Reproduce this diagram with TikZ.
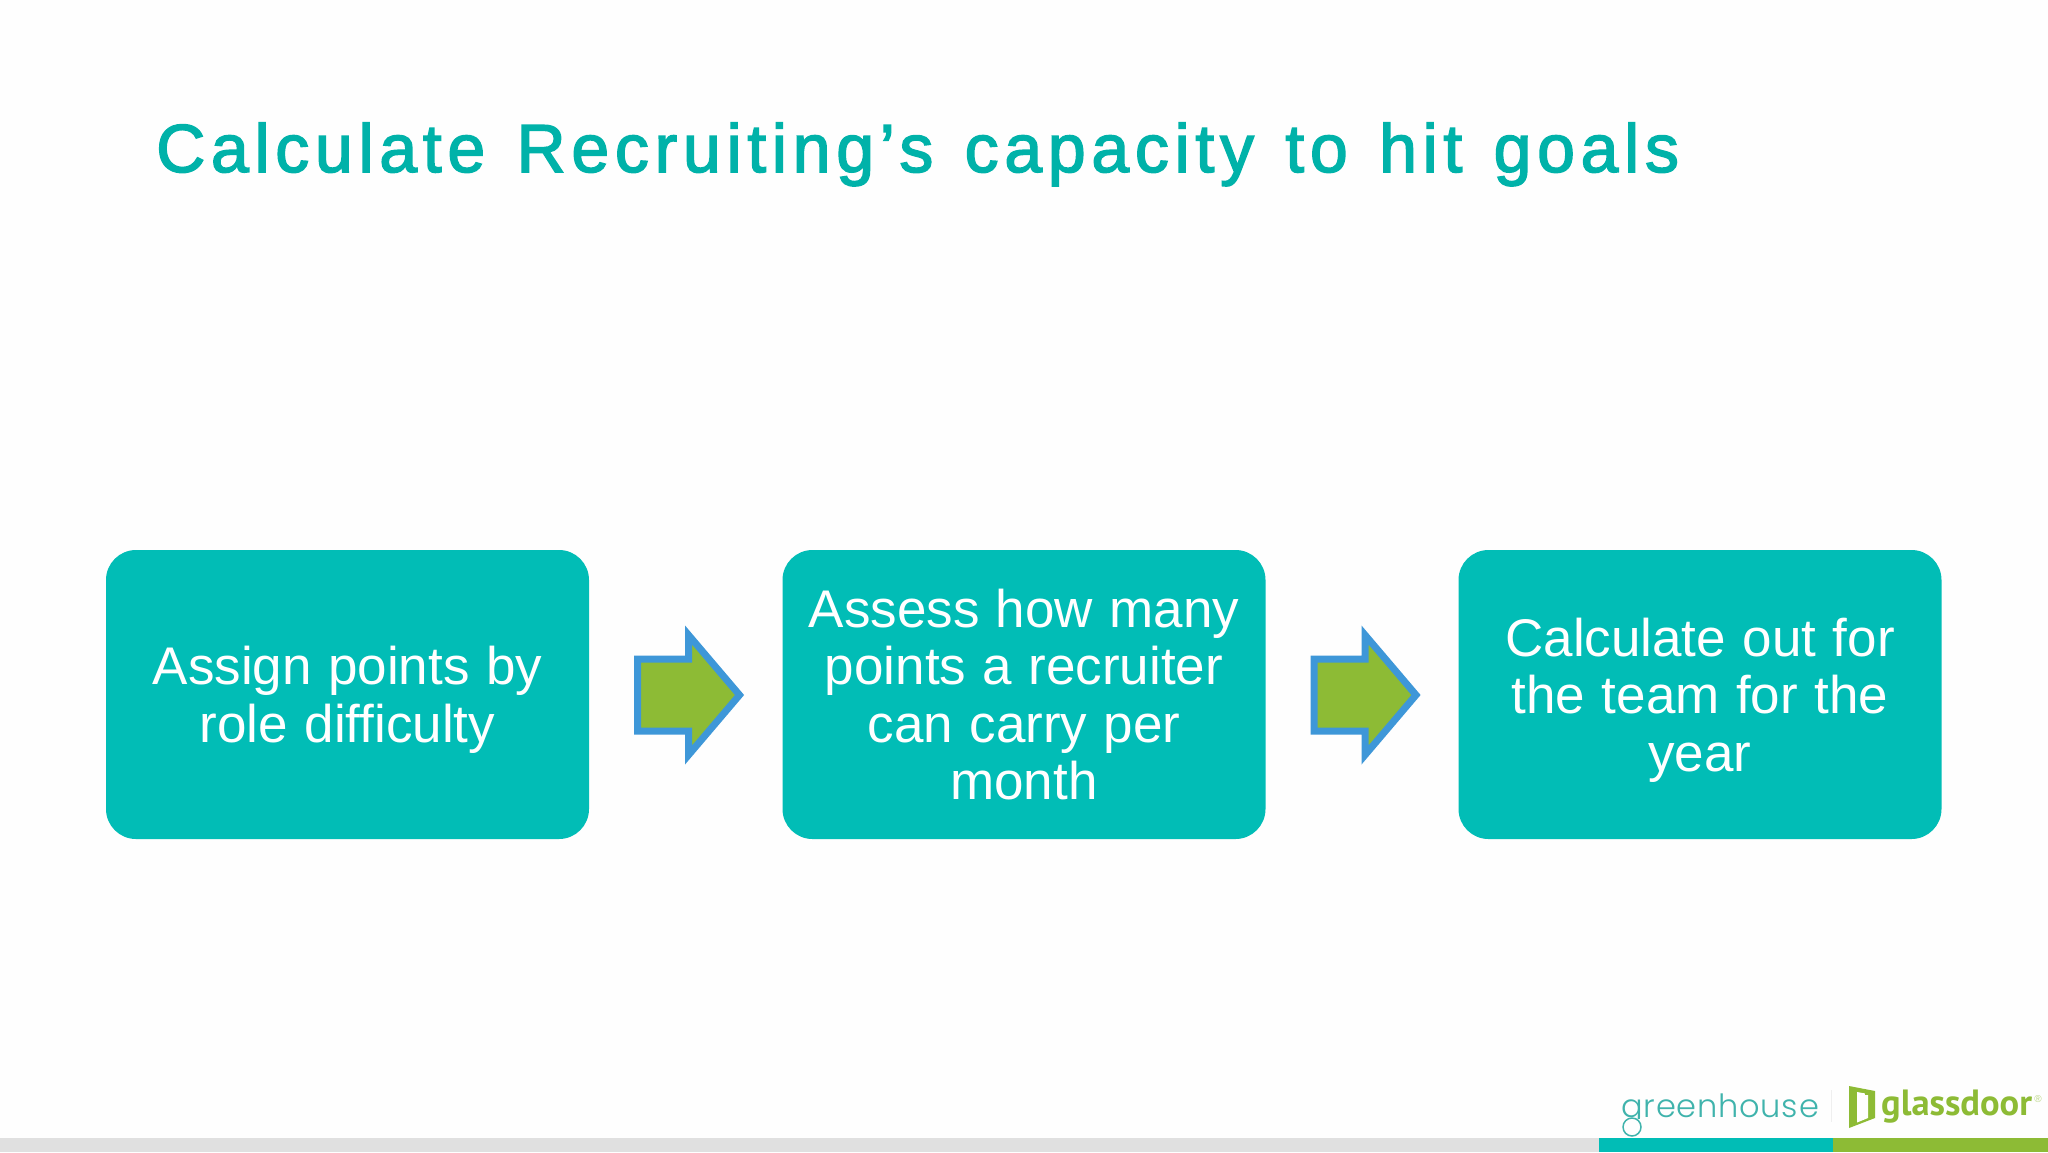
\documentclass[tikz,border=0pt]{standalone}
\usepackage{fontspec}
\setmainfont{Liberation Sans}
\newfontfamily\titlefont[LetterSpace=8.4,FakeBold=2.2]{Liberation Sans}
\newfontfamily\ghfont[LetterSpace=2.5]{Poppins Light}
\newfontfamily\gdfont{PT Sans Bold}
\newcommand\titlegap{\spaceskip=31.3pt\relax}
\newcommand\bodygap{\spaceskip=16.5pt\relax}
\definecolor{teal1}{HTML}{01BDB6}
\definecolor{titleteal}{HTML}{00B2A9}
\definecolor{leaf}{HTML}{8DBB35}
\definecolor{edgeblue}{HTML}{3E97D8}
\definecolor{barg}{HTML}{E0E0E0}
\definecolor{ghteal}{HTML}{3FB3AC}
\definecolor{paper}{HTML}{FEFEFE}
\tikzset{
  stepbox/.style={draw=none,fill=teal1,rounded corners=30pt,minimum width=483pt,minimum height=289pt,
    text width=445pt,align=center,text=white,font=\fontsize{53}{57.5}\selectfont,inner sep=0pt},
  blockarrow/.style={fill=leaf,draw=edgeblue,line width=7pt,miter limit=10,line join=miter},
  pics/flow/.style={code={
    \draw[blockarrow] (0,36) -- (51,36) -- (51,60) -- (102,0) -- (51,-60) -- (51,-36) -- (0,-36) -- cycle;
  }}
}
\begin{document}
\begin{tikzpicture}[x=1pt,y=-1pt]
\useasboundingbox (0,0) rectangle (2048,1152);
\fill[paper] (0,0) rectangle (2048,1152);
\node[anchor=base west,inner sep=0pt,text=titleteal,font=\titlefont\fontsize{68}{70}\selectfont] (title) at (156,172) {\titlegap Calculate Recruiting’s capacity to hit goals};
\node[stepbox] (b1) at (347.5,694.5) {\bodygap Assign points by\\\smash{role difficulty}};
\node[stepbox] (b2) at (1024,694.5) {\bodygap Assess how many\\points a recruiter\\can carry per\\month};
\node[stepbox] (b3) at (1700,694.5) {\bodygap Calculate out for\\the team for the\\\smash{year}};
\pic at (637.5,695) {flow};
\pic at (1314,695) {flow};
% bottom bar
\fill[barg] (0,1138) rectangle (1599,1152);
\fill[teal1] (1599,1138) rectangle (1833,1152);
\fill[leaf] (1833,1138) rectangle (2048,1152);
% greenhouse logo
\node[anchor=base west,inner sep=0pt,text=ghteal,font=\ghfont\fontsize{32}{34}\selectfont] (gh) at (1621,1117) {greenhouse};
\fill[paper] (1618,1118.5) rectangle (1650,1135);
\draw[ghteal,line width=1.5pt] (1632,1127) circle (9);
\draw[barg!50,line width=0.8pt] (1831,1090) -- (1831,1122);
% glassdoor logo
\fill[leaf] (1849,1086) -- (1875,1091) -- (1875,1118) -- (1849,1128) -- cycle;
\fill[paper] (1857,1092) -- (1868,1094) -- (1868,1118) -- (1857,1122.5) -- cycle;
\fill[leaf] (1865,1091) rectangle (1875,1095);
\node[anchor=base west,inner sep=0pt,text=leaf,font=\gdfont\fontsize{36.5}{40}\selectfont] (gd) at (1881,1115) {glassdoor};
\node[anchor=center,inner sep=0pt,text=leaf!60,font=\fontsize{10}{10}\selectfont] (reg) at (2038,1099) {®};
\end{tikzpicture}
\end{document}
